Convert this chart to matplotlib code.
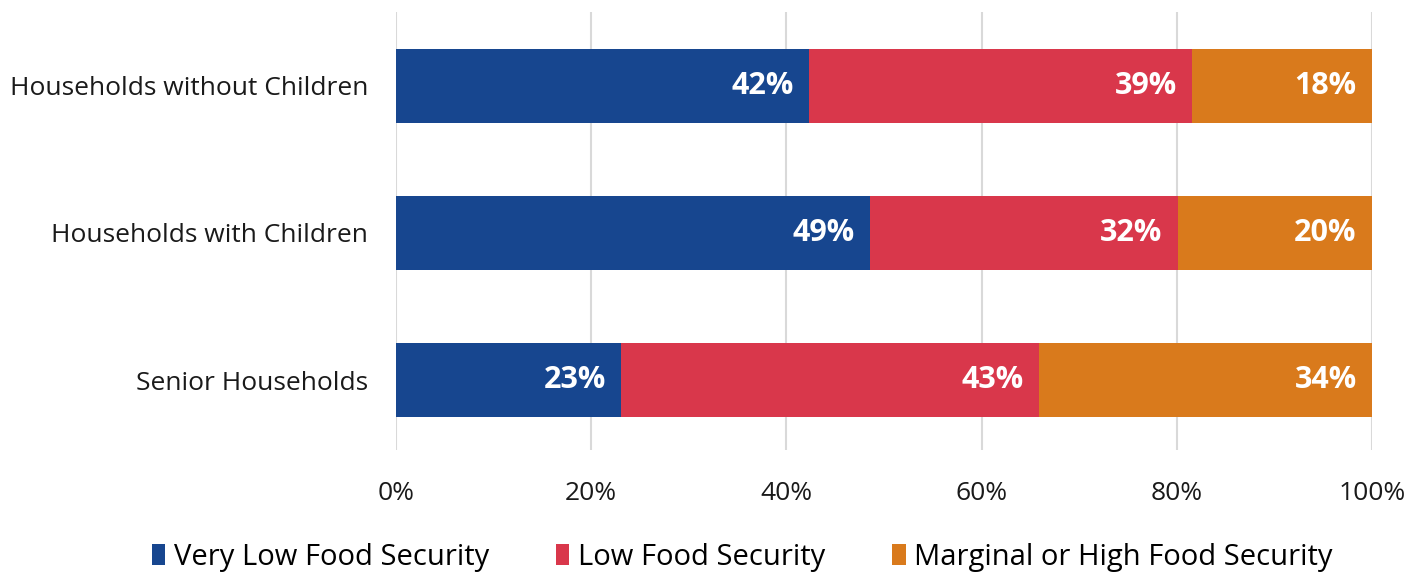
import matplotlib
matplotlib.use("Agg")
import matplotlib.pyplot as plt
from matplotlib.patches import Patch
import numpy as np

categories = ["Households without Children", "Households with Children", "Senior Households"]
very_low = [42.3, 48.6, 23.1]
low = [39.3, 31.5, 42.8]
marginal = [18.4, 19.9, 34.1]
series_names = ["Very Low Food Security", "Low Food Security", "Marginal or High Food Security"]
colors = ["#17468F", "#D9374B", "#D97A1C"]
xticks = [0, 20, 40, 60, 80, 100]
xticklabels = ["0%", "20%", "40%", "60%", "80%", "100%"]

plt.rcParams['font.family'] = ['Open Sans', 'DejaVu Sans']

fig = plt.figure(figsize=(14.25, 5.76), dpi=100)
ax = fig.add_axes([396/1425, 126/576, (1372-396)/1425, 438/576])

y = np.arange(len(categories))
left = np.zeros(len(categories))
for vals, name, col in zip([very_low, low, marginal], series_names, colors):
    vals = np.array(vals)
    ax.barh(y, vals, left=left, height=0.503, color=col, label=name, zorder=3)
    for yi, l, v in zip(y, left, vals):
        ax.annotate(f"{int(v + 0.5):d}%", xy=(l + v, yi), xytext=(-11, 0),
                    textcoords="offset points", ha="right", va="center",
                    color="white", fontsize=22, fontweight="bold", zorder=4)
    left = left + vals

ax.set_xlim(0, 100)
ax.set_ylim(2.476, -0.503)
ax.set_yticks(y)
ax.set_yticklabels(categories, fontsize=19)
ax.set_xticks(xticks)
ax.set_xticklabels(xticklabels, fontsize=19)
ax.tick_params(axis="both", length=0, colors="#1a1a1a")
ax.tick_params(axis="x", pad=22)
ax.tick_params(axis="y", pad=20)
ax.grid(axis="x", color="#d9d9d9", linewidth=1.5, zorder=0)
for s in ax.spines.values():
    s.set_visible(False)

handles = [Patch(facecolor=c, label=n) for c, n in zip(colors, series_names)]
fig.legend(handles=handles, loc="center", bbox_to_anchor=(0.521, 19/576), ncol=3,
           frameon=False, fontsize=21, handlelength=0.45, handleheight=0.7,
           handletextpad=0.3, columnspacing=2.3)

fig.savefig("out.png", dpi=100)
